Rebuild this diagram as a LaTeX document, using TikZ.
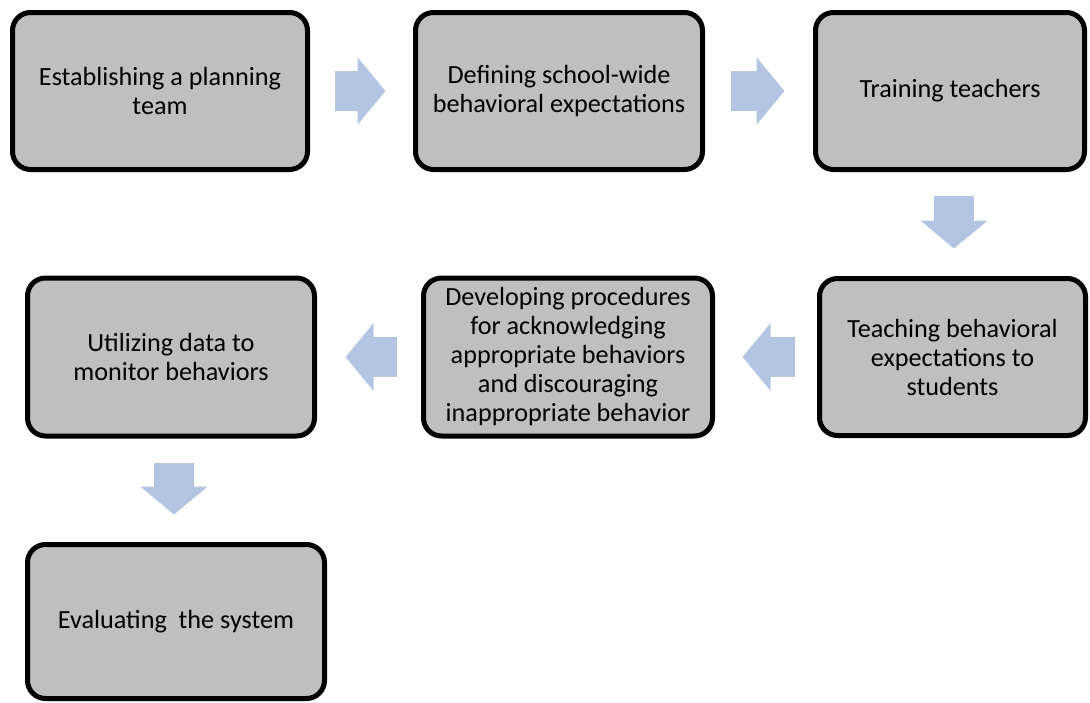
\documentclass[tikz,border=0pt]{standalone}
\usepackage{fontspec}
\setmainfont{Carlito}
\usetikzlibrary{arrows.meta}
\definecolor{boxgray}{RGB}{191,191,191}
\definecolor{arrowblue}{RGB}{180,197,227}
\tikzset{
  stepbox/.style={draw=black, line width=5pt, fill=boxgray, rounded corners=18pt,
    align=center, inner sep=0pt, font=\fontsize{26.2pt}{29pt}\selectfont},
  blockarrow/.style={draw=arrowblue, line width=40pt,
    -{Triangle[length=28pt,width=66pt]}}
}
\begin{document}
\begin{tikzpicture}[x=1pt,y=-1pt]
\useasboundingbox (0,0) rectangle (1090,702);
\node[stepbox, minimum width=295pt, minimum height=157pt] (b1) at (160,91) {Establishing a planning\\team};
\node[stepbox, minimum width=287pt, minimum height=157pt] (b2) at (559,91) {Defining school-wide\\behavioral expectations};
\node[stepbox, minimum width=269pt, minimum height=157pt] (b3) at (950,91) {Training teachers};
\node[stepbox, minimum width=266pt, minimum height=157pt] (b4) at (952.5,357) {Teaching behavioral\\expectations to\\students};
\node[stepbox, minimum width=289pt, minimum height=158pt] (b5) at (568,357) {Developing procedures\\for acknowledging\\appropriate behaviors\\and discouraging\\inappropriate behavior};
\node[stepbox, minimum width=287pt, minimum height=158pt] (b6) at (171,357) {Utilizing data to\\monitor behaviors};
\node[stepbox, minimum width=297pt, minimum height=154pt] (b7) at (176,621.5) {Evaluating\ \ the system};
\draw[blockarrow, shorten <=24.5pt, shorten >=27.5pt] (b1.east) -- (b2.west);
\draw[blockarrow, shorten <=25.5pt, shorten >=28.5pt] (b2.east) -- (b3.west);
\draw[blockarrow, shorten <=23.5pt, shorten >=27.5pt] ([xshift=4pt]b3.south) -- ([xshift=4pt]b3.south |- b4.north);
\draw[blockarrow, shorten <=22.5pt, shorten >=27.5pt] (b4.west) -- (b5.east);
\draw[blockarrow, shorten <=24.5pt, shorten >=28.5pt] (b5.west) -- (b6.east);
\draw[blockarrow, shorten <=24.5pt, shorten >=27.5pt] ([xshift=3pt]b6.south) -- ([xshift=3pt]b6.south |- b7.north);
\end{tikzpicture}
\end{document}
